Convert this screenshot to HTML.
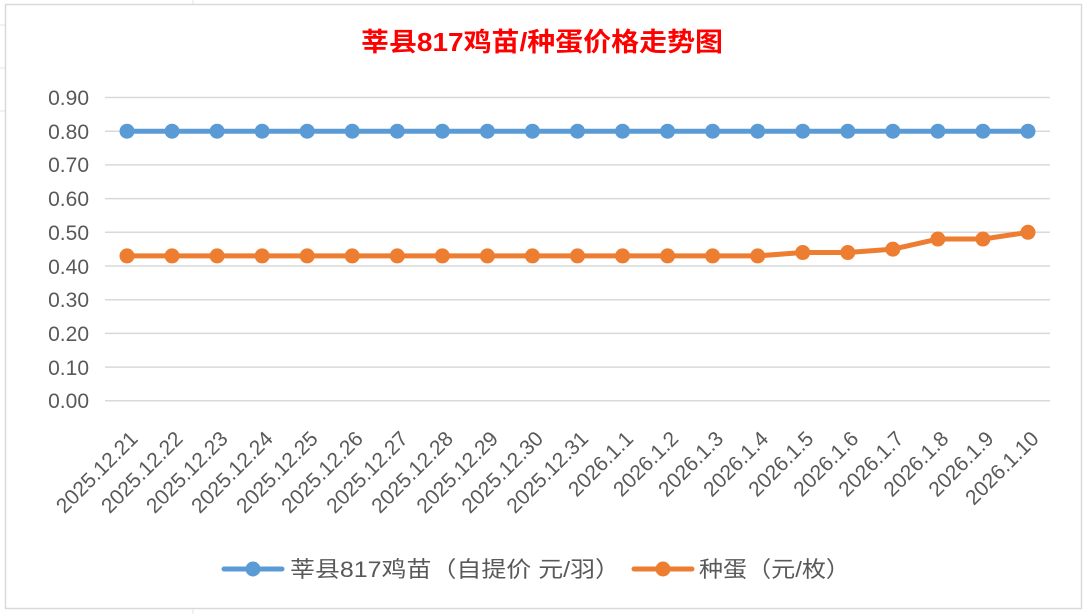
<!DOCTYPE html>
<html><head><meta charset="utf-8"><style>
body{margin:0;width:1086px;height:614px;background:#fff;overflow:hidden}
svg{display:block}
text{font-family:"Liberation Sans","Noto Sans CJK SC",sans-serif}
</style></head><body>
<svg id="s" width="1086" height="614" xmlns="http://www.w3.org/2000/svg">
<g stroke="#e4e4e4" stroke-width="1">
<line x1="0" y1="25" x2="5" y2="25"/><line x1="0" y1="68" x2="5" y2="68"/><line x1="0" y1="111" x2="5" y2="111"/>
<line x1="193" y1="0" x2="193" y2="4"/><line x1="193" y1="609" x2="193" y2="614"/>
</g>
<rect x="5.5" y="4.5" width="1076" height="604" fill="#fff" stroke="#d9d9d9" stroke-width="1.5"/>
<text x="361" y="51" textLength="362" lengthAdjust="spacingAndGlyphs" font-size="26" font-weight="bold" fill="#ff0000">莘县817鸡苗/种蛋价格走势图</text>
<g stroke="#d9d9d9" stroke-width="1.5">
<line x1="105" y1="97.5" x2="1050" y2="97.5"/><line x1="105" y1="131.2" x2="1050" y2="131.2"/>
<line x1="105" y1="164.9" x2="1050" y2="164.9"/><line x1="105" y1="198.6" x2="1050" y2="198.6"/>
<line x1="105" y1="232.3" x2="1050" y2="232.3"/><line x1="105" y1="266" x2="1050" y2="266"/>
<line x1="105" y1="299.7" x2="1050" y2="299.7"/><line x1="105" y1="333.4" x2="1050" y2="333.4"/>
<line x1="105" y1="367.1" x2="1050" y2="367.1"/><line x1="105" y1="400.8" x2="1050" y2="400.8"/>
</g>
<g font-size="21" fill="#595959" text-anchor="end">
<text x="89" y="105">0.90</text><text x="89" y="139">0.80</text><text x="89" y="172">0.70</text>
<text x="89" y="206">0.60</text><text x="89" y="240">0.50</text><text x="89" y="274">0.40</text>
<text x="89" y="307">0.30</text><text x="89" y="341">0.20</text><text x="89" y="375">0.10</text>
<text x="89" y="408">0.00</text>
</g>
<g id="xl" font-size="21" fill="#595959" text-anchor="end"></g>
<polyline id="bl" fill="none" stroke="#5b9bd5" stroke-width="5" stroke-linejoin="round"/>
<polyline id="or" fill="none" stroke="#ed7d31" stroke-width="5" stroke-linejoin="round"/>
<g id="dots"></g>
<line x1="224" y1="569" x2="282" y2="569" stroke="#5b9bd5" stroke-width="5" stroke-linecap="round"/>
<circle cx="253" cy="569" r="7.5" fill="#5b9bd5"/>
<text x="290" y="577" font-size="22" textLength="330" lengthAdjust="spacingAndGlyphs" fill="#595959">莘县817鸡苗（自提价 元/羽）</text>
<line x1="634" y1="569" x2="692" y2="569" stroke="#ed7d31" stroke-width="5" stroke-linecap="round"/>
<circle cx="663" cy="569" r="7.5" fill="#ed7d31"/>
<text x="699" y="577" font-size="22" textLength="151" lengthAdjust="spacingAndGlyphs" fill="#595959">种蛋（元/枚）</text>
</svg>
<script>
var labels=["2025.12.21","2025.12.22","2025.12.23","2025.12.24","2025.12.25","2025.12.26","2025.12.27","2025.12.28","2025.12.29","2025.12.30","2025.12.31","2026.1.1","2026.1.2","2026.1.3","2026.1.4","2026.1.5","2026.1.6","2026.1.7","2026.1.8","2026.1.9","2026.1.10"];
var ov=[.43,.43,.43,.43,.43,.43,.43,.43,.43,.43,.43,.43,.43,.43,.43,.44,.44,.45,.48,.48,.50];
var ns="http://www.w3.org/2000/svg",xl=document.getElementById("xl"),d=document.getElementById("dots");
var bp=[],op=[];
function Y(v){return 400.8-v*337;}
function c(x,y,f){var e=document.createElementNS(ns,"circle");e.setAttribute("cx",x);e.setAttribute("cy",y);e.setAttribute("r",7.5);e.setAttribute("fill",f);d.appendChild(e);}
for(var i=0;i<21;i++){var x=127+i*45.05;
bp.push(x+","+Y(.8));op.push(x+","+Y(ov[i]));
var t=document.createElementNS(ns,"text");t.setAttribute("x",x+12);t.setAttribute("y",440);
t.setAttribute("transform","rotate(-45 "+(x+12)+" 440)");t.textContent=labels[i];xl.appendChild(t);
c(x,Y(.8),"#5b9bd5");c(x,Y(ov[i]),"#ed7d31");}
document.getElementById("bl").setAttribute("points",bp.join(" "));
document.getElementById("or").setAttribute("points",op.join(" "));
</script>
</body></html>
